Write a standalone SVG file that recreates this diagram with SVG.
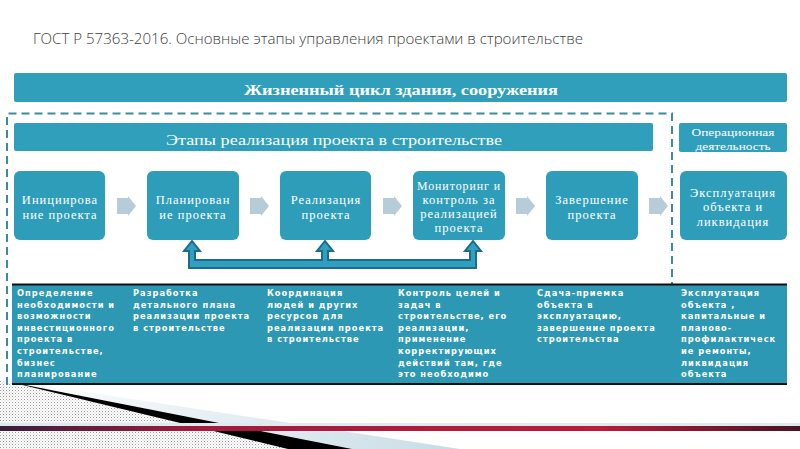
<svg xmlns="http://www.w3.org/2000/svg" width="800" height="449" viewBox="0 0 800 449">
<defs>
<style>
.box{fill:#2e9db9}
.band{fill:#2f9fbb}
.stxt{font-family:"Liberation Serif",serif;font-size:12.5px;fill:#ffffff;text-anchor:middle;letter-spacing:1px}
.ttxt{font-family:"DejaVu Sans",sans-serif;font-weight:bold;font-size:8.3px;fill:#ffffff;letter-spacing:1px}
.garrow{fill:#b6ccd8}
</style>
<pattern id="dots" width="3" height="3" patternUnits="userSpaceOnUse">
<rect width="3" height="3" fill="#ffffff"/>
<rect x="0" y="0" width="1" height="1" fill="#9a9a9a"/>
<rect x="1.5" y="1.5" width="1" height="1" fill="#c0c0c0"/>
</pattern>
<linearGradient id="redline" x1="0" y1="0" x2="1" y2="0">
<stop offset="0" stop-color="#3a1d3a"/>
<stop offset="0.25" stop-color="#a21c3e"/>
<stop offset="0.75" stop-color="#b81c3a"/>
<stop offset="1" stop-color="#4a1424"/>
</linearGradient>
<linearGradient id="lightw" x1="0" y1="0" x2="1" y2="0">
<stop offset="0" stop-color="#ffffff"/>
<stop offset="1" stop-color="#c8dce6"/>
</linearGradient>
</defs>
<rect width="800" height="449" fill="#ffffff"/>

<!-- bottom decoration -->
<g id="decor">
<polygon points="0,381 12,383 290,449 0,449" fill="url(#dots)"/>
<polygon points="40,385 460,449 352,449 10,382" fill="url(#lightw)"/>
<polygon points="10,382 352,449 288,449" fill="#000000"/>
<rect x="0" y="423" width="800" height="3" fill="#dfeaf0"/>
<rect x="0" y="426" width="800" height="5" fill="url(#redline)"/>
</g>

<text x="33" y="44" font-family="Open Sans, sans-serif" font-weight="300" font-size="14.5" fill="#404040" textLength="550" lengthAdjust="spacingAndGlyphs">ГОСТ Р 57363-2016. Основные этапы управления проектами в строительстве</text>

<g id="lifecycle">
<rect x="14" y="73" width="773" height="29" rx="2" class="band"/>
<text x="401" y="95" font-family="Liberation Serif, serif" font-weight="bold" font-size="15.5" fill="#ffffff" text-anchor="middle" textLength="314" lengthAdjust="spacingAndGlyphs">Жизненный цикл здания, сооружения</text>
</g>

<g id="frame">
<path d="M7,385 V113.5 H672 V285" fill="none" stroke="#3a8c9e" stroke-width="2" stroke-dasharray="8,5"/>
</g>

<g id="stages-band">
<rect x="14" y="123" width="639" height="28" rx="2" class="band"/>
<text x="334" y="145" font-family="Liberation Serif, serif" font-size="15" fill="#ffffff" text-anchor="middle" textLength="336" lengthAdjust="spacingAndGlyphs">Этапы реализация проекта в строительстве</text>
</g>

<g id="operational">
<rect x="679" y="123" width="108" height="29" rx="2" class="band"/>
<text x="733" y="136" font-family="Liberation Serif, serif" font-size="11" fill="#ffffff" text-anchor="middle" textLength="83" lengthAdjust="spacingAndGlyphs">Операционная</text>
<text x="733" y="150" font-family="Liberation Serif, serif" font-size="11" fill="#ffffff" text-anchor="middle" textLength="75" lengthAdjust="spacingAndGlyphs">деятельность</text>
</g>

<g id="stage1">
<rect x="14" y="171" width="91" height="69" rx="6" class="box"/>
<text x="60" y="204" class="stxt">Инициирова</text>
<text x="60" y="219" class="stxt">ние проекта</text>
</g>
<g id="stage2">
<rect x="147" y="171" width="92" height="69" rx="6" class="box"/>
<text x="193" y="204" class="stxt">Планирован</text>
<text x="193" y="219" class="stxt">ие проекта</text>
</g>
<g id="stage3">
<rect x="280" y="171" width="91" height="69" rx="6" class="box"/>
<text x="326" y="204" class="stxt">Реализация</text>
<text x="326" y="219" class="stxt">проекта</text>
</g>
<g id="stage4">
<rect x="413" y="171" width="92" height="69" rx="6" class="box"/>
<text x="459" y="190" class="stxt" letter-spacing="0" textLength="84" lengthAdjust="spacingAndGlyphs">Мониторинг и</text>
<text x="459" y="204" class="stxt">контроль за</text>
<text x="459" y="218" class="stxt">реализацией</text>
<text x="459" y="232" class="stxt">проекта</text>
</g>
<g id="stage5">
<rect x="546" y="171" width="92" height="69" rx="6" class="box"/>
<text x="592" y="204" class="stxt">Завершение</text>
<text x="592" y="219" class="stxt">проекта</text>
</g>
<g id="stage6">
<rect x="680" y="171" width="107" height="69" rx="6" class="box"/>
<text x="733" y="197" class="stxt">Эксплуатация</text>
<text x="733" y="211" class="stxt">объекта и</text>
<text x="733" y="226" class="stxt">ликвидация</text>
</g>

<g id="connectors">
<polygon class="garrow" points="117,198 128,198 128,196 136,206 128,216 128,214 117,214"/>
<polygon class="garrow" points="250,198 261,198 261,196 269,206 261,216 261,214 250,214"/>
<polygon class="garrow" points="383,198 394,198 394,196 402,206 394,216 394,214 383,214"/>
<polygon class="garrow" points="516,198 527,198 527,196 535,206 527,216 527,214 516,214"/>
<polygon class="garrow" points="649,198 660,198 660,196 668,206 660,216 660,214 649,214"/>
<polygon points="189,268 476,268 476,251 481,251 473,241 465,251 470,251 470,260 328,260 328,251 333,251 325,241 317,251 322,251 322,260 195,260 195,251 200,251 192,241 184,251 189,251" fill="#2fa0c0" stroke="#1d6b88" stroke-width="2" stroke-linejoin="miter"/>
</g>

<g id="table">
<rect x="12" y="285" width="775" height="99" fill="#2d98b4"/>
<rect x="12" y="283.5" width="775" height="2" fill="#111111"/>
<rect x="12" y="383" width="775" height="2" fill="#111111"/>
<text class="ttxt">
<tspan x="17" y="296">Определение</tspan>
<tspan x="17" y="307.6">необходимости и</tspan>
<tspan x="17" y="319.2">возможности</tspan>
<tspan x="17" y="330.8">инвестиционного</tspan>
<tspan x="17" y="342.4">проекта в</tspan>
<tspan x="17" y="354">строительстве,</tspan>
<tspan x="17" y="365.6">бизнес</tspan>
<tspan x="17" y="377.2">планирование</tspan>
</text>
<text class="ttxt">
<tspan x="133" y="296">Разработка</tspan>
<tspan x="133" y="307.6">детального плана</tspan>
<tspan x="133" y="319.2">реализации проекта</tspan>
<tspan x="133" y="330.8">в строительстве</tspan>
</text>
<text class="ttxt">
<tspan x="267" y="296">Координация</tspan>
<tspan x="267" y="307.6">людей и других</tspan>
<tspan x="267" y="319.2">ресурсов для</tspan>
<tspan x="267" y="330.8">реализации проекта</tspan>
<tspan x="267" y="342.4">в строительстве</tspan>
</text>
<text class="ttxt">
<tspan x="398" y="296">Контроль целей и</tspan>
<tspan x="398" y="307.6">задач в</tspan>
<tspan x="398" y="319.2">строительстве, его</tspan>
<tspan x="398" y="330.8">реализации,</tspan>
<tspan x="398" y="342.4">применение</tspan>
<tspan x="398" y="354">корректирующих</tspan>
<tspan x="398" y="365.6">действий там, где</tspan>
<tspan x="398" y="377.2">это необходимо</tspan>
</text>
<text class="ttxt">
<tspan x="537" y="296">Сдача-приемка</tspan>
<tspan x="537" y="307.6">объекта в</tspan>
<tspan x="537" y="319.2">эксплуатацию,</tspan>
<tspan x="537" y="330.8">завершение проекта</tspan>
<tspan x="537" y="342.4">строительства</tspan>
</text>
<text class="ttxt">
<tspan x="681" y="296">Эксплуатация</tspan>
<tspan x="681" y="307.6">объекта ,</tspan>
<tspan x="681" y="319.2">капитальные и</tspan>
<tspan x="681" y="330.8">планово-</tspan>
<tspan x="681" y="342.4">профилактическ</tspan>
<tspan x="681" y="354">ие  ремонты,</tspan>
<tspan x="681" y="365.6">ликвидация</tspan>
<tspan x="681" y="377.2">объекта</tspan>
</text>
</g>
</svg>
